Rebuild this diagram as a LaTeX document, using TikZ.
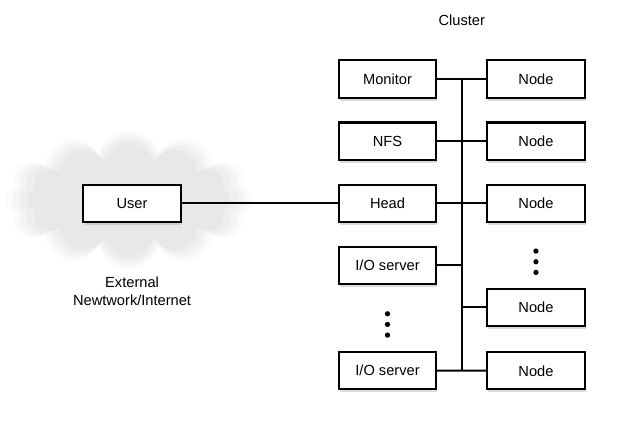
\documentclass[tikz,border=0pt]{standalone}
\usepackage{fontspec}
\setmainfont{Liberation Sans}
\usepackage{tikz}
\usetikzlibrary{shapes.symbols, positioning, calc, shadows, backgrounds}

\begin{document}
\begin{tikzpicture}[node distance=0.68cm, line width=1.8pt, font=\fontsize{12.5}{15}\selectfont,
    box/.style={draw, rectangle, minimum width=2.92cm, minimum height=1.12cm, inner sep=0pt, align=center, fill=white,
        drop shadow={fill=gray!70, opacity=0.4, shadow xshift=1pt, shadow yshift=-2.5pt}},
    haze/.style={cloud, cloud puffs=12, aspect=1.75, fill=gray, draw=none},
    dot/.style={circle, fill=black, inner sep=0pt, minimum size=4.5pt}]

\useasboundingbox (0,0) rectangle (18.51,-12.63);

% cluster, left column
\node[box] (monitor) at (11.625,-2.37) {Monitor};
\node[box, below=of monitor] (nfs) {NFS};
\node[box, below=of nfs] (head) {Head};
\node[box, below=of head] (io1) {I/O server};
\node[box, below=1.97cm of io1] (io2) {I/O server};

% cluster, right column
\node[box, right=1.47cm of monitor] (node1) {Node};
\node[box, below=of node1] (node2) {Node};
\node[box, below=of node2] (node3) {Node};
\node[box, below=1.94cm of node3] (node4) {Node};
\node[box, below=0.72cm of node4] (node5) {Node};

% outside
\node[box, left=4.68cm of head] (user) {User};
\node[below=1.48cm of user, align=center] (extlabel) {External\\Newtwork/Internet};
\node (cluster) at ($(monitor.east)!0.5!(node1.west)+(0,1.77)$) {Cluster};

\begin{scope}[on background layer]
\foreach \s/\o in {7.4/0.04, 7.0/0.05, 6.6/0.05, 6.1/0.06}
    \node[haze, fill opacity=\o, minimum width=\s cm, minimum height=0.56*\s cm] (cloud\s) at ($(user)+(-0.1,0.1)$) {};
\end{scope}

% bus
\coordinate (bustop) at ($(monitor.east)!0.5!(node1.west)$);
\coordinate (busbot) at (bustop |- io2);
\draw (bustop) -- (busbot);

\draw (monitor) -- (node1);
\draw (nfs) -- (node2);
\draw (user) -- (head);
\draw (head) -- (node3);
\draw (io1) -- (io1 -| bustop);
\draw (bustop |- node4) -- (node4);
\draw (io2) -- (node5);

% dots
\coordinate (dotsR) at ($(node3.south)!0.6!(node4.north)$);
\coordinate (dotsL) at ($(io1.south)!0.6!(io2.north)$);
\foreach \d in {-1,0,1} {
    \node[dot] (r\d) at ($(dotsR)+(0,\d*0.32)$) {};
    \node[dot] (l\d) at ($(dotsL)+(0,\d*0.32)$) {};
}
\end{tikzpicture}
\end{document}
